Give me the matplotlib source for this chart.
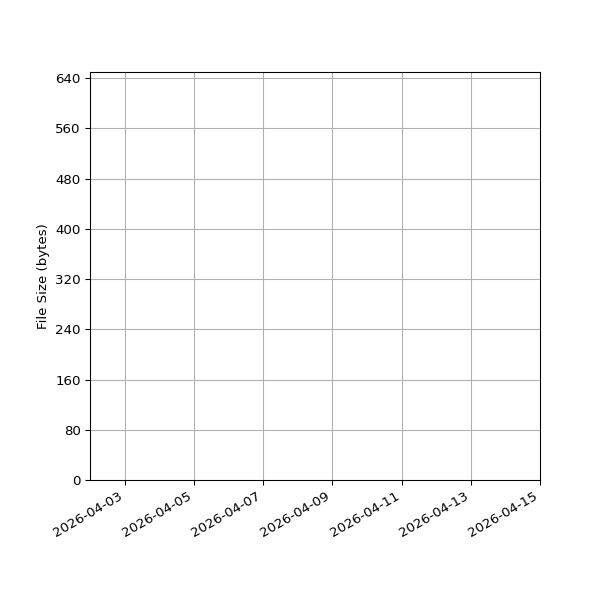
import datetime as dt
import matplotlib
matplotlib.use("Agg")
import matplotlib.pyplot as plt
import matplotlib.dates as mdates
from matplotlib.ticker import MaxNLocator

# no samples recorded in the window, the chart is empty
dates = []
sizes = []
start = dt.datetime(2026, 4, 2)
end = dt.datetime(2026, 4, 15)
max_size = 650

fig, ax = plt.subplots(figsize=(6.25, 6.25), dpi=96)
ax.plot(dates, sizes, marker="o")
ax.set_xlim(start, end)
ax.set_ylim(0, max_size)
ax.xaxis.set_major_locator(mdates.DayLocator(interval=2, bymonthday=range(3, 32, 2)))
ax.xaxis.set_major_formatter(mdates.DateFormatter("%Y-%m-%d"))
ax.yaxis.set_major_locator(MaxNLocator(integer=True))
ax.set_ylabel("File Size (bytes)")
ax.grid(True)
fig.autofmt_xdate()
fig.subplots_adjust(left=0.15, right=0.9, top=0.88, bottom=0.2)
fig.savefig("out.png")
